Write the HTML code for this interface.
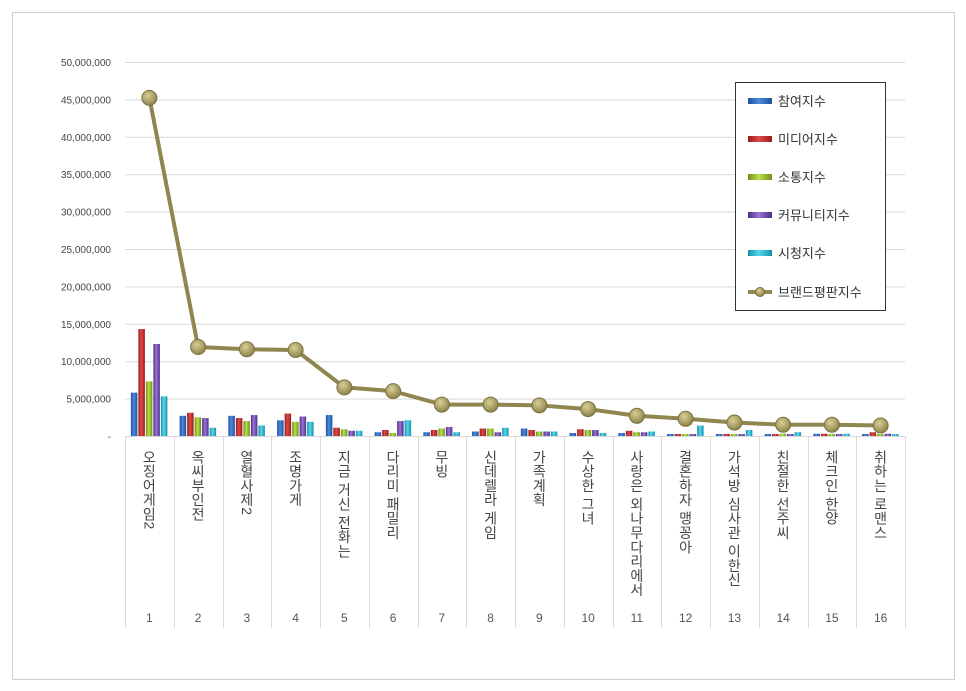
<!DOCTYPE html>
<html><head><meta charset="utf-8"><style>
body{margin:0;background:#fff;width:966px;height:691px;position:relative;overflow:hidden;font-family:"Liberation Sans","Noto Sans CJK KR",sans-serif}
.lab{position:absolute;top:450px;writing-mode:vertical-rl;text-orientation:mixed;font-size:14px;line-height:14px;color:#444;letter-spacing:0.3px;font-family:"Liberation Sans","Noto Sans CJK KR",sans-serif}
</style></head><body>
<svg width="966" height="691" style="position:absolute;left:0;top:0">
<defs>
<linearGradient id="g0" x1="0" x2="1"><stop offset="0" stop-color="#1f4f9a"/><stop offset=".45" stop-color="#4a8be0"/><stop offset="1" stop-color="#1f4f9a"/></linearGradient>
<linearGradient id="g1" x1="0" x2="1"><stop offset="0" stop-color="#9a1b1b"/><stop offset=".45" stop-color="#e04848"/><stop offset="1" stop-color="#9a1b1b"/></linearGradient>
<linearGradient id="g2" x1="0" x2="1"><stop offset="0" stop-color="#6f8f1f"/><stop offset=".45" stop-color="#b8e048"/><stop offset="1" stop-color="#6f8f1f"/></linearGradient>
<linearGradient id="g3" x1="0" x2="1"><stop offset="0" stop-color="#4e2f86"/><stop offset=".45" stop-color="#9a74d6"/><stop offset="1" stop-color="#4e2f86"/></linearGradient>
<linearGradient id="g4" x1="0" x2="1"><stop offset="0" stop-color="#1a8ea6"/><stop offset=".45" stop-color="#52d8f0"/><stop offset="1" stop-color="#1a8ea6"/></linearGradient>
<radialGradient id="gm" cx=".4" cy=".35" r=".7"><stop offset="0" stop-color="#d8cf98"/><stop offset="1" stop-color="#8a7f45"/></radialGradient>
</defs>
<rect x="12.5" y="12.5" width="942" height="667" fill="#fff" stroke="#d0d0d0"/>
<g id="grid" stroke="#d9d9d9" stroke-width="1"></g>
<g id="ylab" font-size="10" fill="#444" text-anchor="end"></g>
<g id="bars"></g>
<g id="line"></g>
<g id="xl" font-size="12" fill="#555" text-anchor="middle"></g>
<rect x="735.5" y="82.5" width="150" height="228" fill="#fff" stroke="#333"/>
<g font-size="13" fill="#333">
<rect x="748" y="98" width="24" height="6" fill="url(#g0)"/><text x="778" y="106">참여지수</text>
<rect x="748" y="136" width="24" height="6" fill="url(#g1)"/><text x="778" y="144">미디어지수</text>
<rect x="748" y="174" width="24" height="6" fill="url(#g2)"/><text x="778" y="182">소통지수</text>
<rect x="748" y="212" width="24" height="6" fill="url(#g3)"/><text x="778" y="220">커뮤니티지수</text>
<rect x="748" y="250" width="24" height="6" fill="url(#g4)"/><text x="778" y="258">시청지수</text>
<line x1="748" y1="292" x2="772" y2="292" stroke="#8f8650" stroke-width="4"/><circle cx="760" cy="292" r="4.5" fill="url(#gm)" stroke="#7a7040"/><text x="778" y="297">브랜드평판지수</text>
</g>
</svg>
<div id="labs"></div>
<script>
var NS="http://www.w3.org/2000/svg";
function el(p,t,a){var e=document.createElementNS(NS,t);for(var k in a)e.setAttribute(k,a[k]);document.getElementById(p).appendChild(e);return e;}
var y0=436,pm=7.48,x0=125,cw=48.75;
for(var i=0;i<=10;i++){var y=y0-i*5*pm;el("grid","line",{x1:x0,x2:905,y1:y+.5,y2:y+.5});
var t=el("ylab","text",{x:111,y:y+4});t.textContent=i==0?"-":(i*5000000).toLocaleString("en-US");}
for(var i=0;i<=16;i++){var x=Math.round(x0+i*cw)+.5;el("grid","line",{x1:x,x2:x,y1:y0,y2:628});}
var d=[[5.8,14.3,7.3,12.3,5.3],[2.7,3.1,2.5,2.4,1.1],[2.7,2.4,2.0,2.8,1.4],[2.1,3.0,1.9,2.6,1.9],[2.8,1.1,0.9,0.7,0.7],[0.5,0.8,0.4,2.0,2.1],[0.5,0.8,1.0,1.2,0.5],[0.6,1.0,1.0,0.5,1.1],[1.0,0.8,0.6,0.6,0.6],[0.4,0.9,0.8,0.8,0.4],[0.4,0.7,0.5,0.5,0.6],[0.2,0.2,0.2,0.2,1.4],[0.2,0.2,0.2,0.2,0.8],[0.1,0.1,0.3,0.1,0.5],[0.3,0.3,0.2,0.2,0.3],[0.2,0.5,0.2,0.3,0.1]];
var L=[45.2,11.9,11.6,11.5,6.5,6.0,4.2,4.2,4.1,3.6,2.7,2.3,1.8,1.5,1.5,1.4];
var names=["오징어게임2","옥씨부인전","열혈사제2","조명가게","지금 거신 전화는","다리미 패밀리","무빙","신데렐라 게임","가족계획","수상한 그녀","사랑은 외나무다리에서","결혼하자 맹꽁아","가석방 심사관 이한신","친절한 선주씨","체크인 한양","취하는 로맨스"];
var pts=[];
for(var c=0;c<16;c++){var cx=x0+c*cw+cw/2;
for(var s=0;s<5;s++){var h=Math.max(2,d[c][s]*pm);el("bars","rect",{x:cx-18.5+s*7.5,y:y0-h,width:6.5,height:h,fill:"url(#g"+s+")"});}
pts.push(cx+","+(y0-L[c]*pm));
var t=el("xl","text",{x:cx,y:622});t.textContent=c+1;
var dv=document.createElement("div");dv.className="lab";dv.textContent=names[c];dv.style.left=(cx-7)+"px";document.getElementById("labs").appendChild(dv);}
el("line","polyline",{points:pts.join(" "),fill:"none",stroke:"#8f8650","stroke-width":4,"stroke-linejoin":"round"});
pts.forEach(function(p){var a=p.split(",");el("line","circle",{cx:a[0],cy:a[1],r:7.5,fill:"url(#gm)",stroke:"#7a7040","stroke-width":1});});
</script>
</body></html>
